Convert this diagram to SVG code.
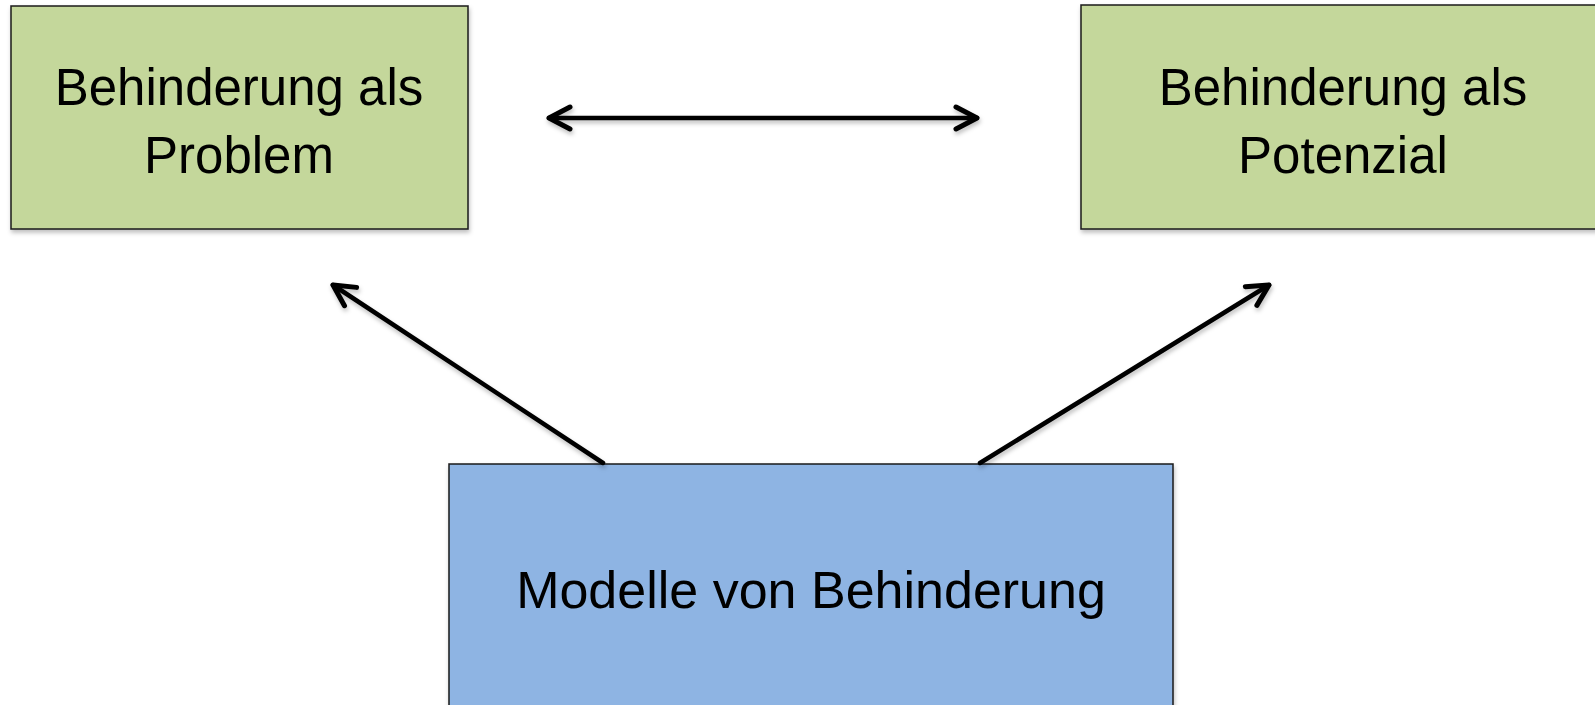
<svg xmlns="http://www.w3.org/2000/svg" width="1595" height="705" viewBox="0 0 1595 705">
  <style>
    .box { stroke: #1a1a1a; stroke-width: 1.5; }
    .green { fill: #C4D79B; }
    .blue { fill: #8EB4E3; }
    .label { font-family: "Liberation Sans", Arial, sans-serif; font-size: 51px; fill: #000; text-anchor: middle; }
    .conn { stroke: #000; stroke-width: 4.5; fill: none; stroke-linecap: round; }
  </style>
  <defs>
    <filter id="shadow" x="-10%" y="-10%" width="120%" height="130%">
      <feDropShadow dx="1" dy="3" stdDeviation="2" flood-color="#000" flood-opacity="0.25"/>
    </filter>
    <marker id="arrow" viewBox="-28 -15 32 30" refX="0" refY="0" markerWidth="32" markerHeight="30" markerUnits="userSpaceOnUse" orient="auto-start-reverse">
      <path d="M -21 -11 L 0 0 L -21 11" fill="none" stroke="#000" stroke-width="5" stroke-linecap="round" stroke-linejoin="round"/>
    </marker>
  </defs>
  <rect width="1595" height="705" fill="#fff"/>
  <g id="node-problem">
    <rect class="box green" x="11" y="6" width="457" height="223" filter="url(#shadow)"/>
    <text class="label" x="239" y="105">Behinderung als</text>
    <text class="label" x="239" y="173">Problem</text>
  </g>
  <g id="node-potenzial">
    <rect class="box green" x="1081" y="5" width="530" height="224" filter="url(#shadow)"/>
    <text class="label" x="1343" y="105">Behinderung als</text>
    <text class="label" x="1343" y="173">Potenzial</text>
  </g>
  <g id="node-modelle">
    <rect class="box blue" x="449" y="464" width="724" height="260" filter="url(#shadow)"/>
    <text class="label" x="811" y="608" style="font-size:52px">Modelle von Behinderung</text>
  </g>
  <g id="connectors" filter="url(#shadow)">
    <line class="conn" x1="549" y1="118" x2="977" y2="118" marker-start="url(#arrow)" marker-end="url(#arrow)"/>
    <line class="conn" x1="603" y1="463" x2="333" y2="285" marker-end="url(#arrow)"/>
    <line class="conn" x1="980" y1="463" x2="1269" y2="285" marker-end="url(#arrow)"/>
  </g>
</svg>
